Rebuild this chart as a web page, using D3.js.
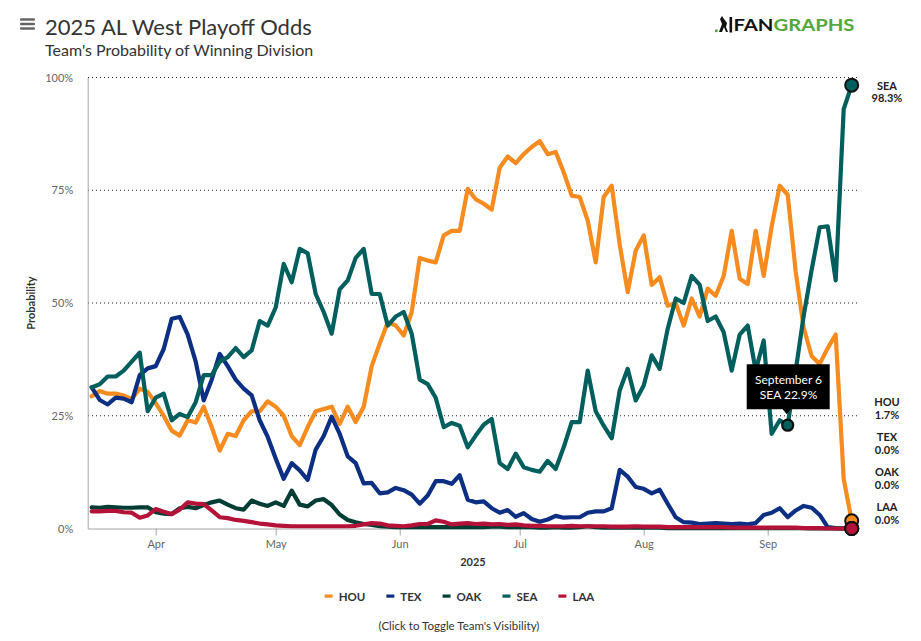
<!DOCTYPE html>
<html>
<head>
<meta charset="utf-8">
<script src="https://cdn.jsdelivr.net/npm/d3@7"></script>
<style>
body { margin: 0; background: #fff; }
svg text { font-family: Lato, "Open Sans", sans-serif; }
</style>
</head>
<body>
<script>

// teams in draw order (last one on top)
let teams = ["HOU", "TEX", "OAK", "SEA", "LAA"]
let colors = ["#f68b1f", "#0c2f84", "#023d33", "#005f5c", "#b5123a"]

// one reading every second day, Mar 16 .. Sep 22
let dates = [
  "03-16","03-18","03-20","03-22","03-24","03-26","03-28","03-30",
  "04-01","04-03","04-05","04-07","04-09","04-11","04-13","04-15",
  "04-17","04-19","04-21","04-23","04-25","04-27","04-29","05-01",
  "05-03","05-05","05-07","05-09","05-11","05-13","05-15","05-17",
  "05-19","05-21","05-23","05-25","05-27","05-29","05-31","06-02",
  "06-04","06-06","06-08","06-10","06-12","06-14","06-16","06-18",
  "06-20","06-22","06-24","06-26","06-28","06-30","07-02","07-04",
  "07-06","07-08","07-10","07-12","07-14","07-16","07-18","07-20",
  "07-22","07-24","07-26","07-28","07-30","08-01","08-03","08-05",
  "08-07","08-09","08-11","08-13","08-15","08-17","08-19","08-21",
  "08-23","08-25","08-27","08-29","08-31","09-02","09-04","09-06",
  "09-08","09-10","09-12","09-14","09-16","09-18","09-20","09-22"
]

let hou = [
  29.3, 30.5, 29.9, 29.9, 29.5, 28.7, 31, 30.3,
  27.8, 25, 21.7, 20.6, 24, 23.5, 27, 22.5,
  17.3, 21, 20.5, 24, 26, 26, 28.2, 27,
  25, 20.5, 18.5, 22.5, 26, 26.5, 27, 23.2,
  27, 23.6, 27, 36, 41, 45.7, 45, 42.8,
  48, 60, 59.4, 59, 65, 66, 66, 75.3,
  73, 72, 70.7, 80, 82.5, 81, 83, 84.6,
  85.9, 83, 83.5, 79, 73.8, 73.5, 68.3, 59,
  73.5, 76, 63, 52.4, 61.6, 65, 54, 55.7,
  49.4, 50, 45, 51, 47, 53.2, 51.6, 56,
  66, 55.4, 54.2, 66, 56, 67, 76, 74,
  57, 44.5, 38.2, 36.5, 40, 43, 11, 1.7
]

let tex = [
  31.3, 28.5, 27.5, 29, 28.8, 28, 34, 35.5,
  36, 39.8, 46.5, 46.9, 43, 37, 28.4, 33,
  38.7, 36, 33, 31, 29.5, 24, 20.3, 15.5,
  11, 14.5, 12.9, 10.8, 17.5, 20.5, 24.8, 21,
  16, 14.5, 10, 10.1, 7.8, 8, 9, 8.5,
  7.5, 5.5, 7.3, 10.5, 10.5, 9.9, 11.8, 6.4,
  5.8, 6, 4.5, 3.5, 4.1, 2.6, 3.4, 2.1,
  1.5, 2, 2.8, 2.4, 2.5, 2.5, 3.5, 3.8,
  3.8, 4.5, 13, 11.5, 9.2, 8.8, 7.8, 8.6,
  5.5, 2.5, 1.4, 1.3, 1, 1.1, 1.2, 1.1,
  1, 1.1, 0.9, 1.2, 3, 3.5, 4.5, 2.5,
  4, 5, 4.6, 3, 0.3, 0.1, 0, 0
]

let oak = [
  4.7, 4.6, 4.8, 4.7, 4.6, 4.6, 4.7, 4.7,
  3.6, 3.3, 3.2, 4.5, 4.8, 4.5, 5.2, 5.8,
  6.2, 5.3, 4.5, 4.2, 6.2, 5.5, 5, 5.8,
  5, 8.4, 5.3, 4.9, 6.2, 6.5, 5.2, 3.1,
  1.9, 1.4, 1, 0.8, 0.5, 0.4, 0.3, 0.3,
  0.3, 0.3, 0.3, 0.3, 0.3, 0.3, 0.3, 0.3,
  0.3, 0.3, 0.4, 0.4, 0.3, 0.3, 0.3, 0.3,
  0.2, 0.2, 0.3, 0.2, 0.2, 0.3, 0.5, 0.3,
  0.2, 0.2, 0.2, 0.2, 0.2, 0.2, 0.2, 0.2,
  0.1, 0.1, 0.1, 0.1, 0.1, 0.1, 0.1, 0.1,
  0.1, 0.1, 0.1, 0.1, 0.1, 0.1, 0.1, 0.1,
  0.1, 0.1, 0, 0, 0, 0, 0, 0
]

let sea = [
  31.3, 32, 33.7, 33.7, 35, 37, 39, 26,
  29, 29.9, 24, 25.4, 24.7, 28, 34, 34,
  37, 38, 40, 38, 39.5, 46, 45, 49,
  58.7, 54.6, 62, 61, 52, 48, 43.2, 53,
  55, 60, 62, 52, 52, 45, 47, 48,
  43.2, 33, 32, 29, 22.5, 23.4, 22.8, 18,
  20.6, 23, 24.3, 14.5, 13.2, 16.6, 13.6, 13,
  12.6, 15, 13.2, 18, 23.6, 23.6, 35, 26,
  22.8, 20, 30.6, 35.4, 28.4, 31.7, 38.4, 35.4,
  44.3, 51, 50, 56, 54, 46, 47, 43.5,
  35, 43, 45, 35, 41.7, 21, 24, 22.9,
  35, 47.2, 57.4, 66.8, 67, 55, 93, 98.3
]

let laa = [
  3.8, 3.8, 3.9, 3.9, 3.6, 3.5, 2.4, 2.9,
  4.3, 3.7, 3.2, 4.2, 5.8, 5.5, 5.4, 4,
  2.5, 2.3, 1.9, 1.7, 1.4, 1.1, 0.9, 0.7,
  0.6, 0.5, 0.5, 0.5, 0.5, 0.5, 0.5, 0.5,
  0.5, 0.6, 0.9, 1.2, 1.1, 0.7, 0.6, 0.5,
  0.7, 1, 1, 1.8, 1.5, 0.9, 1.1, 1.2,
  1, 1.1, 0.9, 1, 0.8, 0.9, 0.7, 0.6,
  0.6, 0.5, 0.5, 0.5, 0.6, 0.5, 0.5, 0.5,
  0.5, 0.4, 0.4, 0.4, 0.5, 0.4, 0.4, 0.4,
  0.3, 0.3, 0.3, 0.3, 0.3, 0.3, 0.3, 0.3,
  0.2, 0.2, 0.2, 0.2, 0.2, 0.2, 0.2, 0.2,
  0.2, 0.1, 0.1, 0.1, 0, 0, 0, 0
]

let yTicks = [0, 25, 50, 75, 100]
let monthTicks = ["04-01", "05-01", "06-01", "07-01", "08-01", "09-01"]
let hoverTeam = "SEA"
let hoverDate = "09-06"

let width = 921
let height = 641

let parseDay = (s) => d3.timeParse("%Y-%m-%d")("2025-" + s)
let days = dates.map(parseDay)
let values = [hou, tex, oak, sea, laa]

let series = teams.map((team, i) => {
    return { team: team, color: colors[i], index: i,
             points: days.map((d, j) => [d, values[i][j]]) }
})

let svg = d3.select("body")
            .append("svg")
            .attr("width", width)
            .attr("height", height)

let xScale = d3.scaleTime()
               .domain([parseDay("03-15"), parseDay("09-24")])
               .range([87.7, 859.7])

let yScale = d3.scaleLinear()
               .domain([0, 100])
               .range([528.5, 77.5])

// header
let menu = svg.append("g").attr("fill", "#666")
;[18.3, 22.8, 27.3].forEach((y) => {
    menu.append("rect").attr("x", 20).attr("y", y).attr("width", 15).attr("height", 2.4).attr("rx", 1)
})

svg.append("text")
   .attr("x", 45).attr("y", 35)
   .attr("font-size", 22)
   .attr("fill", "#333")
   .text("2025 AL West Playoff Odds")

svg.append("text")
   .attr("x", 45).attr("y", 56)
   .attr("font-size", 16)
   .attr("fill", "#333")
   .text("Team's Probability of Winning Division")

// logo
let logo = svg.append("g")
logo.append("rect").attr("x", 715).attr("y", 29.5).attr("width", 2.6).attr("height", 2.6).attr("fill", "#52a83e")
logo.append("path")
    .attr("d", "M719,32 L722,24 L720,19 L722,16 L724,19 L727,23 L726,27 L728,32 L726,32 L724,27 L722,32 Z")
    .attr("fill", "#111")
logo.append("rect").attr("x", 729.5).attr("y", 17).attr("width", 2.6).attr("height", 15.5).attr("fill", "#111")
let logoText = logo.append("text")
    .attr("x", 733.5).attr("y", 31)
    .attr("font-family", "'Liberation Sans', Arial, sans-serif")
    .attr("font-weight", "bold")
    .attr("font-size", 17.5)
    .attr("textLength", 121)
    .attr("lengthAdjust", "spacingAndGlyphs")
logoText.append("tspan").attr("fill", "#111").text("FAN")
logoText.append("tspan").attr("fill", "#52a83e").text("GRAPHS")

// grid
svg.append("g")
   .selectAll("line")
   .data(yTicks.filter((t) => t > 0))
   .enter()
   .append("line")
   .attr("x1", 88).attr("x2", 858)
   .attr("y1", (t) => yScale(t)).attr("y2", (t) => yScale(t))
   .attr("stroke", "#222")
   .attr("stroke-width", 1)
   .attr("stroke-dasharray", "1,3")

// axes
let yAxis = d3.axisLeft(yScale)
              .tickValues(yTicks)
              .tickFormat((t) => t + "%")
              .tickSize(0)
              .tickPadding(14.5)

let yG = svg.append("g")
            .attr("transform", "translate(87.7,0)")
            .call(yAxis)
yG.select(".domain").attr("stroke", "#a6a6a6")
yG.selectAll("text").attr("fill", "#666").attr("font-size", 11).attr("font-family", "Lato, sans-serif")

let xAxis = d3.axisBottom(xScale)
              .tickValues(monthTicks.map(parseDay))
              .tickFormat(d3.timeFormat("%b"))
              .tickSizeInner(7)
              .tickSizeOuter(0)
              .tickPadding(5)

let xG = svg.append("g")
            .attr("transform", "translate(0,528.5)")
            .call(xAxis)
xG.select(".domain").attr("stroke", "#a6a6a6")
xG.selectAll(".tick line").attr("stroke", "#a6a6a6")
xG.selectAll("text").attr("fill", "#666").attr("font-size", 11).attr("font-family", "Lato, sans-serif")

svg.append("text")
   .attr("x", 473).attr("y", 566)
   .attr("text-anchor", "middle")
   .attr("font-size", 11)
   .attr("font-weight", "bold")
   .attr("fill", "#333")
   .text("2025")

svg.append("text")
   .attr("transform", "translate(35,303) rotate(-90)")
   .attr("text-anchor", "middle")
   .attr("font-size", 11)
   .attr("font-weight", "bold")
   .attr("fill", "#333")
   .text("Probability")

// lines
let line = d3.line()
             .x((p) => xScale(p[0]))
             .y((p) => yScale(p[1]))

svg.append("g")
   .selectAll("path")
   .data(series)
   .enter()
   .append("path")
   .attr("d", (s) => line(s.points))
   .attr("fill", "none")
   .attr("stroke", (s) => s.color)
   .attr("stroke-width", 4.2)
   .attr("stroke-linejoin", "round")
   .attr("stroke-linecap", "round")

// end markers
svg.append("g")
   .selectAll("circle")
   .data(series)
   .enter()
   .append("circle")
   .attr("cx", (s) => xScale(s.points[s.points.length - 1][0]))
   .attr("cy", (s) => yScale(s.points[s.points.length - 1][1]))
   .attr("r", 6.5)
   .attr("fill", (s) => s.color)
   .attr("stroke", "#111")
   .attr("stroke-width", 2)

// end labels, stacked upward so they do not overlap
let order = series.slice().sort((a, b) => {
    let va = a.points[a.points.length - 1][1]
    let vb = b.points[b.points.length - 1][1]
    return va - vb || b.index - a.index
})
let lastBase = 511 + 35
order.forEach((s) => {
    let v = s.points[s.points.length - 1][1]
    let base = Math.min(yScale(v) + 4.4, 511, lastBase - 35)
    lastBase = base
    let t = svg.append("text")
               .attr("text-anchor", "middle")
               .attr("font-size", 11)
               .attr("font-weight", "bold")
               .attr("fill", "#222")
    t.append("tspan").attr("x", 887).attr("y", base).text(s.team)
    t.append("tspan").attr("x", 887).attr("y", base + 12.5).text(v.toFixed(1) + "%")
})

// tooltip on the hovered point
let hs = series.find((s) => s.team === hoverTeam)
let hp = hs.points[dates.indexOf(hoverDate)]
let px = xScale(hp[0])
let py = yScale(hp[1])

svg.append("circle")
   .attr("cx", px).attr("cy", py)
   .attr("r", 5.5)
   .attr("fill", hs.color)
   .attr("stroke", "#111")
   .attr("stroke-width", 2.2)

let tip = svg.append("g")
tip.append("path")
   .attr("d", "M" + (px - 41) + "," + (py - 61) +
              " H" + (px + 42) + " V" + (py - 16) +
              " H" + (px + 3) + " L" + (px - 1) + "," + (py - 11) +
              " L" + (px - 5) + "," + (py - 16) +
              " H" + (px - 41) + " Z")
   .attr("fill", "#000")
tip.append("text")
   .attr("x", px + 0.8).attr("y", py - 41.5)
   .attr("text-anchor", "middle")
   .attr("font-size", 12)
   .attr("fill", "#fff")
   .text(d3.timeFormat("%B %-d")(hp[0]))
tip.append("text")
   .attr("x", px + 0.8).attr("y", py - 26.5)
   .attr("text-anchor", "middle")
   .attr("font-size", 12)
   .attr("fill", "#fff")
   .text(hs.team + " " + hp[1].toFixed(1) + "%")

// legend
let legend = svg.append("g")
let lx = 0
let items = series.map((s) => {
    let g = legend.append("g")
    g.append("rect")
     .attr("x", 0).attr("y", 594.5)
     .attr("width", 8).attr("height", 3.2)
     .attr("fill", s.color)
    let t = g.append("text")
             .attr("x", 14).attr("y", 601)
             .attr("font-size", 11.5)
             .attr("font-weight", "bold")
             .attr("fill", "#333")
             .text(s.team)
    let w = 14 + t.node().getComputedTextLength()
    g.attr("transform", "translate(" + lx + ",0)")
    lx += w + 21
    return g
})
let legendWidth = lx - 21
legend.attr("transform", "translate(" + (459.5 - legendWidth / 2) + ",0)")

svg.append("text")
   .attr("x", 459).attr("y", 629.5)
   .attr("text-anchor", "middle")
   .attr("font-size", 11.5)
   .attr("fill", "#333")
   .text("(Click to Toggle Team's Visibility)")

</script>
</body>
</html>
